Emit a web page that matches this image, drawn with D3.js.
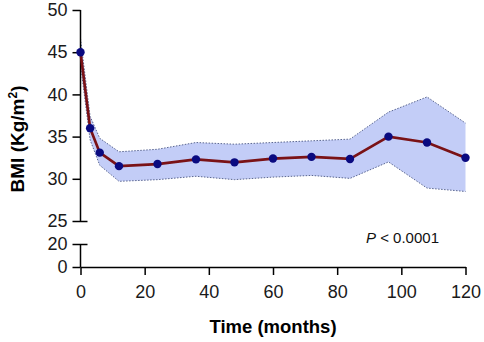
<!DOCTYPE html>
<meta charset="utf-8">
<style>
body { margin: 0; background: #fff; }
text { font-family: "Liberation Sans", Arial, sans-serif; }
.axis path, .axis line { stroke: #000; stroke-width: 1.5px; }
.axis text { font-size: 18px; fill: #1a1a1a; font-family: "Liberation Sans", Arial, sans-serif; }
</style>
<svg width="484" height="342"></svg>
<script src="https://d3js.org/d3.v7.min.js"></script>
<script>

var months = [0, 3, 6, 12, 24, 36, 48, 60, 72, 84, 96, 108, 120];
var bmiMean = [45, 36.0, 33.1, 31.5, 31.75, 32.3, 31.95, 32.4, 32.6, 32.35, 35.0, 34.3, 32.5];
var bmiUpper = [46.6, 37.4, 34.8, 33.2, 33.5, 34.3, 34.1, 34.3, 34.5, 34.7, 37.9, 39.7, 36.6];
var bmiLower = [43.5, 34.6, 31.6, 29.7, 29.9, 30.3, 29.9, 30.2, 30.4, 30.05, 32.0, 28.9, 28.5];
var xTicks = [0, 20, 40, 60, 80, 100, 120];
var yTicksTop = [25, 30, 35, 40, 45, 50];
var yTicksBottom = [0, 20];

var svg = d3.select("svg");

var x = d3.scaleLinear().domain([0, 120]).range([80.5, 465.5]);
var yTop = d3.scaleLinear().domain([25, 50]).range([221, 10]);
var yBot = d3.scaleLinear().domain([0, 20]).range([267, 244]);

var rows = months.map(function(m, i) {
  return { m: m, mean: bmiMean[i], hi: bmiUpper[i], lo: bmiLower[i] };
});

// confidence band
var area = d3.area()
  .x(function(d) { return x(d.m); })
  .y0(function(d) { return yTop(d.lo); })
  .y1(function(d) { return yTop(d.hi); });

svg.append("path")
  .datum(rows)
  .attr("d", area)
  .attr("fill", "#c3cdf7")
  .attr("stroke", "none");

var edge = function(key) {
  return d3.line()
    .x(function(d) { return x(d.m); })
    .y(function(d) { return yTop(d[key]); });
};

["hi", "lo"].forEach(function(k) {
  svg.append("path")
    .datum(rows)
    .attr("d", edge(k))
    .attr("fill", "none")
    .attr("stroke", "#5a6690")
    .attr("stroke-width", 1)
    .attr("stroke-dasharray", "1.5,1.5");
});

// axes (broken y axis: 25-50 on top, 0-20 below)
var gTop = svg.append("g")
  .attr("class", "axis")
  .attr("transform", "translate(80.5,0)")
  .call(d3.axisLeft(yTop).tickValues(yTicksTop).tickSize(8).tickSizeOuter(0).tickPadding(5));
gTop.select(".domain").attr("d", "M0," + yTop(25) + "V" + yTop(50));
gTop.selectAll(".tick").filter(function(d) { return d === 25; }).select("line").attr("x1", 7);

var gBot = svg.append("g")
  .attr("class", "axis")
  .attr("transform", "translate(80.5,0)")
  .call(d3.axisLeft(yBot).tickValues(yTicksBottom).tickSize(8).tickSizeOuter(0).tickPadding(5));
gBot.select(".domain").attr("d", "M0," + yBot(0) + "V" + yBot(20));
gBot.selectAll(".tick").filter(function(d) { return d === 20; }).select("line").attr("x1", 7);

svg.append("g")
  .attr("class", "axis")
  .attr("transform", "translate(0," + yBot(0) + ")")
  .call(d3.axisBottom(x).tickValues(xTicks).tickSize(8).tickSizeOuter(0).tickPadding(10));

// mean line
var line = d3.line()
  .x(function(d) { return x(d.m); })
  .y(function(d) { return yTop(d.mean); });

svg.append("path")
  .datum(rows)
  .attr("d", line)
  .attr("fill", "none")
  .attr("stroke", "#7a1216")
  .attr("stroke-width", 2.7);

svg.selectAll("circle.pt")
  .data(rows)
  .enter()
  .append("circle")
  .attr("class", "pt")
  .attr("cx", function(d) { return x(d.m); })
  .attr("cy", function(d) { return yTop(d.mean); })
  .attr("r", 4.2)
  .attr("fill", "#0a0a80");

// labels
svg.append("text")
  .attr("x", 273)
  .attr("y", 333)
  .attr("text-anchor", "middle")
  .attr("font-size", "18.5px")
  .attr("font-weight", "bold")
  .text("Time (months)");

var yl = svg.append("text")
  .attr("transform", "translate(24,139) rotate(-90)")
  .attr("text-anchor", "middle")
  .attr("font-size", "19px")
  .attr("font-weight", "bold");
yl.append("tspan").text("BMI (Kg/m");
yl.append("tspan").attr("font-size", "12px").attr("dy", -7).text("2");
yl.append("tspan").attr("dy", 7).text(")");

var pt = svg.append("text")
  .attr("x", 366)
  .attr("y", 243)
  .attr("font-size", "15px")
  .attr("fill", "#111");
pt.append("tspan").attr("font-style", "italic").text("P");
pt.append("tspan").text(" < 0.0001");

</script>
